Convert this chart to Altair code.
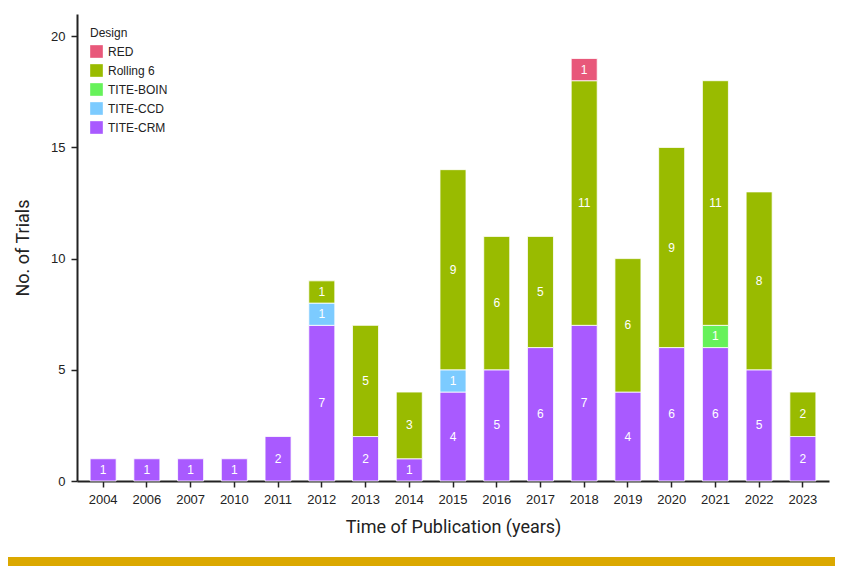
import altair as alt
import pandas as pd

years = ["2004", "2006", "2007", "2010", "2011", "2012", "2013", "2014", "2015",
         "2016", "2017", "2018", "2019", "2020", "2021", "2022", "2023"]
tite_crm = [1, 1, 1, 1, 2, 7, 2, 1, 4, 5, 6, 7, 4, 6, 6, 5, 2]
tite_ccd = [0, 0, 0, 0, 0, 1, 0, 0, 1, 0, 0, 0, 0, 0, 0, 0, 0]
tite_boin = [0, 0, 0, 0, 0, 0, 0, 0, 0, 0, 0, 0, 0, 0, 1, 0, 0]
rolling6 = [0, 0, 0, 0, 0, 1, 5, 3, 9, 6, 5, 11, 6, 9, 11, 8, 2]
red = [0, 0, 0, 0, 0, 0, 0, 0, 0, 0, 0, 1, 0, 0, 0, 0, 0]

designs = ["RED", "Rolling 6", "TITE-BOIN", "TITE-CCD", "TITE-CRM"]
colors = ["#E8587A", "#99BB00", "#66F25A", "#7CCBFF", "#A95AFF"]
stack_order = {"TITE-CRM": 0, "TITE-CCD": 1, "TITE-BOIN": 2, "Rolling 6": 3, "RED": 4}

series = {"TITE-CRM": tite_crm, "TITE-CCD": tite_ccd, "TITE-BOIN": tite_boin,
          "Rolling 6": rolling6, "RED": red}

rows = []
for d, vals in series.items():
    for y, v in zip(years, vals):
        if v > 0:
            rows.append({"Year": y, "Design": d, "Trials": v, "ord": stack_order[d]})
df = pd.DataFrame(rows)

FONT = "Liberation Sans"
GOLD = "#DBA800"

base = alt.Chart(df).transform_stack(
    stack="Trials", groupby=["Year"], as_=["y0", "y1"],
    sort=[alt.SortField("ord", order="ascending")]
).transform_calculate(mid="(datum.y0 + datum.y1) / 2")

xenc = alt.X("Year:N", sort=years,
             scale=alt.Scale(paddingInner=0.405, paddingOuter=0.3),
             axis=alt.Axis(title="Time of Publication (years)", labelAngle=0,
                           labelFontSize=13, labelColor="#222222", labelPadding=6,
                           tickSize=6, tickColor="#222222", domainColor="#222222",
                           domainWidth=2, tickWidth=1.5,
                           titleFontSize=18, titleFont="Roboto", titleFontWeight="normal",
                           titleColor="#222222", titlePadding=12, grid=False))

bars = base.mark_bar(stroke="white", strokeWidth=0.8).encode(
    x=xenc,
    y=alt.Y("y0:Q", scale=alt.Scale(domain=[0, 21], nice=False),
            axis=alt.Axis(title="No. of Trials", values=[0, 5, 10, 15, 20],
                          labelFontSize=13, labelColor="#222222", labelPadding=6,
                          tickSize=6, tickColor="#222222", domainColor="#222222",
                          domainWidth=2, tickWidth=1.5,
                          titleFontSize=18, titleFont="Roboto", titleFontWeight="normal",
                          titleColor="#222222", titlePadding=18, grid=False)),
    y2="y1:Q",
    color=alt.Color("Design:N", scale=alt.Scale(domain=designs, range=colors),
                    legend=alt.Legend(title="Design", orient="none", legendX=13, legendY=14,
                                      titleFontSize=12, titleFontWeight="normal",
                                      titleColor="#222222", labelFontSize=12,
                                      labelColor="#222222", symbolType="square",
                                      symbolSize=160, symbolStrokeWidth=0,
                                      rowPadding=6, titlePadding=5, labelOffset=5)),
)

labels = base.mark_text(color="white", fontSize=12, font=FONT).encode(
    x=alt.X("Year:N", sort=years),
    y=alt.Y("mid:Q"),
    text=alt.Text("Trials:Q"),
)

# decorative gold band at the bottom of the figure frame
band = alt.Chart(pd.DataFrame({"k": [0]})).mark_rect(color=GOLD, clip=False).encode(
    x=alt.value(-69), x2=alt.value(760), y=alt.value(543), y2=alt.value(560)
)

chart = alt.layer(bars, labels, band).properties(
    width=752, height=467,
    autosize=alt.AutoSizeParams(type="none"),
    padding={"left": 69, "top": 6, "right": 6, "bottom": 85},
).configure(font=FONT).configure_view(stroke=None)

chart.save("out.html", embed_options={"renderer": "svg", "actions": False})
